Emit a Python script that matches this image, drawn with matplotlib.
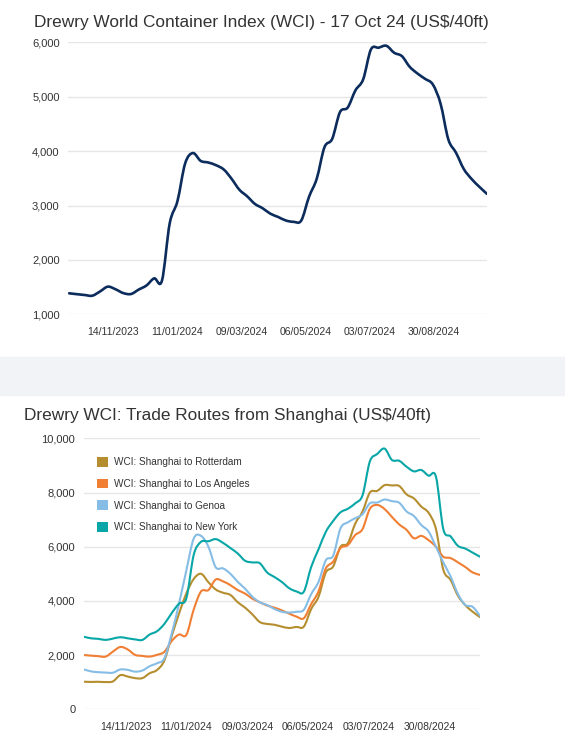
import datetime as dt
import numpy as np
import matplotlib
matplotlib.use("Agg")
import matplotlib.pyplot as plt
import matplotlib.dates as mdates
from matplotlib.patches import Patch, Rectangle, PathPatch
from matplotlib.path import Path
from matplotlib.lines import Line2D
from matplotlib.ticker import FuncFormatter

plt.rcParams["font.family"] = ["Liberation Sans", "DejaVu Sans"]

W, H = 565, 731

# weekly index dates (Thursdays)
start = dt.date(2023, 10, 5)
dates = [start + dt.timedelta(weeks=i) for i in range(55)]

tick_dates = [dt.date(2023, 11, 14), dt.date(2024, 1, 11), dt.date(2024, 3, 9),
              dt.date(2024, 5, 6), dt.date(2024, 7, 3), dt.date(2024, 8, 30)]

wci = [1386, 1370, 1355, 1342, 1420, 1508, 1460, 1390, 1373, 1455,
       1530, 1661, 1620, 2672, 3080, 3776, 3964, 3820, 3790, 3740,
       3660, 3490, 3290, 3170, 3030, 2950, 2850, 2790, 2725, 2700,
       2724, 3159, 3493, 4072, 4226, 4716, 4801, 5117, 5319, 5868,
       5901, 5936, 5808, 5746, 5551, 5428, 5328, 5225, 4871, 4216,
       3969, 3671, 3489, 3345, 3213]

rotterdam = [1018, 1010, 1015, 1005, 1030, 1260, 1210, 1150, 1150, 1330,
             1450, 1800, 2700, 3530, 4280, 4810, 5000, 4690, 4420, 4300,
             4220, 3950, 3750, 3500, 3220, 3150, 3120, 3050, 3000, 3040,
             3050, 3700, 4150, 5050, 5270, 6000, 6130, 6850, 7300, 8000,
             8060, 8270, 8260, 8240, 7930, 7780, 7480, 7250, 6650, 5150,
             4770, 4190, 3840, 3600, 3400]

los_angeles = [2004, 1980, 1960, 1945, 2130, 2300, 2210, 2010, 1970, 1945,
               2010, 2120, 2520, 2760, 2750, 3680, 4350, 4400, 4790, 4720,
               4580, 4400, 4270, 4080, 3950, 3830, 3750, 3650, 3530, 3420,
               3360, 3880, 4350, 5200, 5450, 5950, 6060, 6430, 6650, 7400,
               7540, 7390, 7100, 6820, 6620, 6310, 6400, 6240, 6000, 5630,
               5580, 5420, 5250, 5050, 4960]

genoa = [1476, 1400, 1370, 1355, 1350, 1470, 1455, 1390, 1430, 1590,
         1700, 1880, 2790, 3900, 5130, 6300, 6400, 6000, 5240, 5200,
         5000, 4700, 4450, 4150, 3950, 3850, 3700, 3600, 3570, 3600,
         3670, 4250, 4700, 5500, 5670, 6680, 6900, 7050, 7200, 7600,
         7630, 7740, 7680, 7620, 7300, 7130, 6800, 6560, 6000, 5420,
         4900, 4250, 3850, 3780, 3450]

new_york = [2680, 2620, 2600, 2560, 2610, 2660, 2620, 2580, 2560, 2760,
            2880, 3150, 3550, 3900, 4100, 5700, 6180, 6200, 6280, 6140,
            5950, 5750, 5480, 5420, 5390, 5050, 4880, 4700, 4470, 4350,
            4340, 5250, 5900, 6550, 6950, 7270, 7400, 7600, 7900, 9150,
            9420, 9620, 9200, 9170, 8950, 8780, 8830, 8620, 8580, 6650,
            6380, 6030, 5930, 5780, 5630]

routes = [
    ("WCI: Shanghai to Rotterdam", rotterdam, "#b58e2f"),
    ("WCI: Shanghai to Los Angeles", los_angeles, "#f07f33"),
    ("WCI: Shanghai to Genoa", genoa, "#86bde6"),
    ("WCI: Shanghai to New York", new_york, "#08a6a6"),
]

TXT = "#333333"
GRID = "#e6e6e6"


def px_axes(fig, x0, y0, x1, y1):
    # pixel box (top-left origin) -> figure axes
    return fig.add_axes([x0 / W, 1 - y1 / H, (x1 - x0) / W, (y1 - y0) / H])


def spline(ax, xs, ys, **kw):
    # smooth line through the points as cubic bezier segments (catmull-rom)
    x = mdates.date2num(xs)
    y = np.asarray(ys, dtype=float)
    p = np.column_stack([x, y])
    pp = np.vstack([p[0], p, p[-1]])
    verts = [p[0]]
    codes = [Path.MOVETO]
    for i in range(len(p) - 1):
        p0, p1, p2, p3 = pp[i], pp[i + 1], pp[i + 2], pp[i + 3]
        verts += [p1 + (p2 - p0) / 6, p2 - (p3 - p1) / 6, p2]
        codes += [Path.CURVE4] * 3
    ax.add_patch(PathPatch(Path(verts, codes), fill=False, capstyle="round",
                           joinstyle="round", **kw))


def style(ax, ylim, yticks):
    ax.set_ylim(*ylim)
    ax.set_yticks(yticks)
    ax.yaxis.set_major_formatter(FuncFormatter(lambda v, p: f"{int(v):,}"))
    ax.set_xticks(tick_dates)
    ax.xaxis.set_major_formatter(mdates.DateFormatter("%d/%m/%Y"))
    for s in ax.spines.values():
        s.set_visible(False)
    ax.grid(axis="y", color=GRID, lw=1)
    ax.set_axisbelow(True)
    ax.tick_params(axis="y", length=0, pad=6, labelsize=8, labelcolor=TXT)
    ax.tick_params(axis="x", length=0, pad=9, labelsize=7.5, labelcolor=TXT)


fig = plt.figure(figsize=(W / 100, H / 100), dpi=100)

# grey separator band
fig.patches.append(Rectangle((0, 1 - 395 / H), 1, 38 / H, transform=fig.transFigure,
                             color="#f2f3f7", zorder=0))

# top chart
ax1 = px_axes(fig, 68, 42.3, 487, 314.3)
spline(ax1, dates, wci, edgecolor="#0b2c5c", lw=1.9)
ax1.set_xlim(start - dt.timedelta(days=1.8), dates[-1])
style(ax1, (1000, 6000), [1000, 2000, 3000, 4000, 5000, 6000])
fig.text(34 / W, 1 - 27 / H, "Drewry World Container Index (WCI) - 17 Oct 24 (US$/40ft)",
         fontsize=12.4, color=TXT, va="baseline", ha="left")

# bottom chart
ax2 = px_axes(fig, 83.6, 438.3, 480, 709.3)
for name, vals, col in routes:
    spline(ax2, dates, vals, edgecolor=col, lw=1.5)
ax2.set_xlim(start, dates[-1])
style(ax2, (0, 10000), [0, 2000, 4000, 6000, 8000, 10000])
fig.text(24 / W, 1 - 420 / H, "Drewry WCI: Trade Routes from Shanghai (US$/40ft)",
         fontsize=12.4, color=TXT, va="baseline", ha="left")

handles = [Patch(facecolor=c, edgecolor="none") for _, _, c in routes]
ax2.legend(handles, [r[0] for r in routes], loc="upper left",
           bbox_to_anchor=(97 / W, 1 - 457 / H), bbox_transform=fig.transFigure,
           frameon=False, fontsize=7.2, labelcolor=TXT, handlelength=1.1,
           handleheight=1.1, handletextpad=0.55, labelspacing=1.15, borderpad=0,
           borderaxespad=0)

fig.savefig("out.png", dpi=100)
